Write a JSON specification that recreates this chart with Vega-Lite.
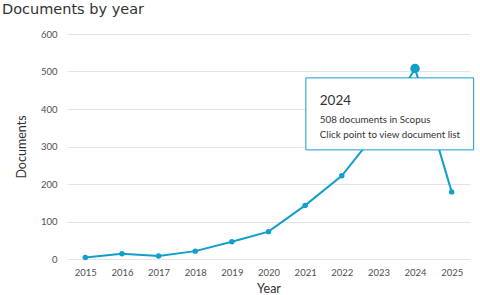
{
  "$schema": "https://vega.github.io/schema/vega-lite/v6.json",
  "width": 403,
  "height": 225,
  "autosize": "none",
  "padding": {"left": 67, "top": 34, "right": 10, "bottom": 36},
  "background": "white",
  "title": {
    "text": "Documents by year",
    "anchor": "start",
    "frame": "group",
    "dx": -65,
    "offset": 12,
    "font": "DejaVu Sans",
    "fontSize": 14.5,
    "fontWeight": "normal",
    "color": "#323232"
  },
  "config": {
    "view": {"stroke": null},
    "axis": {"labelFont": "Lato", "titleFont": "Lato", "labelColor": "#505050", "titleColor": "#323232", "titleFontWeight": "normal", "labelFontSize": 9.5, "titleFontSize": 12.5}
  },
  "datasets": {
    "docs": [
      {"year": 2015, "count": 4},
      {"year": 2016, "count": 14},
      {"year": 2017, "count": 8},
      {"year": 2018, "count": 21},
      {"year": 2019, "count": 46},
      {"year": 2020, "count": 73},
      {"year": 2021, "count": 143},
      {"year": 2022, "count": 222},
      {"year": 2023, "count": 345},
      {"year": 2024, "count": 508},
      {"year": 2025, "count": 179}
    ],
    "tip": [
      {"year": 2021.02, "year2": 2025.6, "count": 291, "count2": 483}
    ],
    "tiptext": [
      {"year": 2021.4, "count": 412, "label": "2024", "size": 13.5},
      {"year": 2021.4, "count": 362, "label": "508 documents in Scopus", "size": 9.8},
      {"year": 2021.4, "count": 324, "label": "Click point to view document list", "size": 9.8}
    ]
  },
  "encoding": {
    "x": {"field": "year", "type": "quantitative", "title": "Year",
      "scale": {"domain": [2014.5, 2025.5], "nice": false, "zero": false},
      "axis": {"values": [2015, 2016, 2017, 2018, 2019, 2020, 2021, 2022, 2023, 2024, 2025], "format": "d", "grid": false, "domain": false, "ticks": false, "labelPadding": 8, "titlePadding": 6}},
    "y": {"field": "count", "type": "quantitative", "title": "Documents",
      "scale": {"domain": [0, 600], "nice": false},
      "axis": {"values": [0, 100, 200, 300, 400, 500, 600], "tickCount": 7, "labelOverlap": false, "domain": false, "ticks": false, "labelPadding": 10, "titlePadding": 12, "gridColor": "#e4e4e4", "gridWidth": 1}}
  },
  "layer": [
    {
      "data": {"name": "docs"},
      "mark": {"type": "line", "color": "#129fcc", "strokeWidth": 2}
    },
    {
      "data": {"name": "docs"},
      "mark": {"type": "point", "filled": true, "opacity": 1, "color": "#129fcc"},
      "encoding": {
        "size": {"condition": {"test": "datum.year === 2024", "value": 90}, "value": 30}
      }
    },
    {
      "data": {"name": "tip"},
      "mark": {"type": "rect", "fill": "white", "stroke": "#129fcc", "strokeWidth": 1, "clip": false},
      "encoding": {
        "x2": {"field": "year2"},
        "y2": {"field": "count2"}
      }
    },
    {
      "data": {"name": "tiptext"},
      "mark": {"type": "text", "align": "left", "baseline": "alphabetic", "font": "Lato", "color": "#333333"},
      "encoding": {
        "text": {"field": "label"},
        "size": {"field": "size", "type": "quantitative", "scale": null}
      }
    }
  ]
}
